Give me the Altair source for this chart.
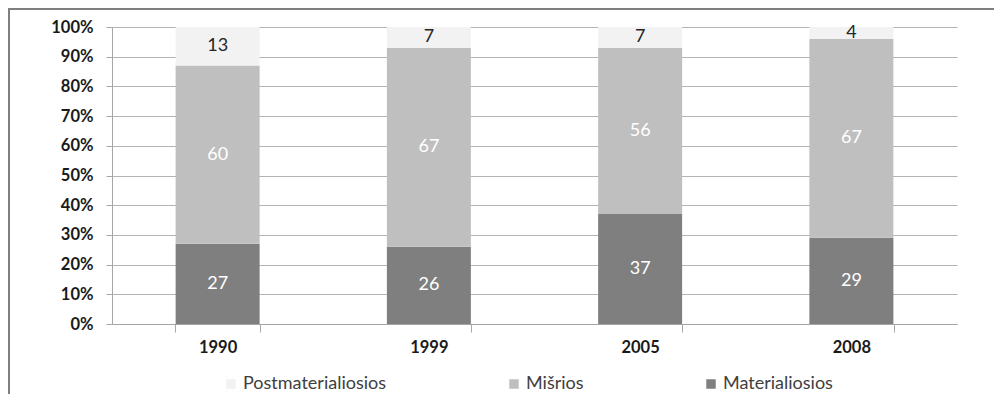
import altair as alt
import pandas as pd

years = ["1990", "1999", "2005", "2008"]
series = ["Materialiosios", "Mišrios", "Postmaterialiosios"]
materialiosios = [27, 26, 37, 29]
misrios = [60, 67, 56, 67]
postmaterialiosios = [13, 7, 7, 4]

legend_order = ["Postmaterialiosios", "Mišrios", "Materialiosios"]
colors = ["#f2f2f2", "#bfbfbf", "#7f7f7f"]
y_ticks = [0, 0.1, 0.2, 0.3, 0.4, 0.5, 0.6, 0.7, 0.8, 0.9, 1.0]

rows = []
for i, y in enumerate(years):
    for k, (s, vals) in enumerate(zip(series, [materialiosios, misrios, postmaterialiosios])):
        rows.append({"year": y, "series": s, "value": vals[i], "ord": k})
df = pd.DataFrame(rows)

FONT = "Lato"
AXIS_GRAY = "#a6a6a6"

x_axis = alt.Axis(
    labelAngle=0, labelFont=FONT, labelFontSize=16.5, labelFontWeight="bold",
    labelColor="#1a1a1a", tickBand="extent", tickSize=8, tickColor=AXIS_GRAY,
    domainColor=AXIS_GRAY, labelPadding=7, grid=False, title=None,
)
y_axis = alt.Axis(
    format=".0%", values=y_ticks, labelFont=FONT,
    labelFontSize=16.5, labelFontWeight="bold", labelColor="#1a1a1a",
    tickSize=6, tickColor=AXIS_GRAY, domainColor=AXIS_GRAY,
    gridColor="#b3b3b3", labelPadding=13, labelOverlap=False, title=None,
)
x_scale = alt.Scale(paddingInner=0.6, paddingOuter=0.3)
y_scale = alt.Scale(domain=[0, 1], nice=False)

bars = alt.Chart(df).mark_bar(size=84).encode(
    x=alt.X("year:N", sort=years, scale=x_scale, axis=x_axis),
    y=alt.Y("value:Q", stack="normalize", scale=y_scale, axis=y_axis),
    color=alt.Color(
        "series:N",
        scale=alt.Scale(domain=legend_order, range=colors),
        legend=alt.Legend(
            title=None, orient="none", direction="horizontal",
            legendX=110, legendY=348, padding=0, symbolType="square", symbolSize=90,
            symbolStrokeWidth=0, labelFont=FONT, labelFontSize=18,
            labelColor="#404040", columnPadding=118, labelOffset=3,
        ),
    ),
    order=alt.Order("ord:Q"),
)

labels = alt.Chart(df).transform_stack(
    stack="value", groupby=["year"], sort=[alt.SortField("ord")],
    as_=["v0", "v1"], offset="normalize",
).transform_calculate(
    mid="(datum.v0 + datum.v1) / 2"
).mark_text(font=FONT, fontSize=18).encode(
    x=alt.X("year:N", sort=years, scale=x_scale, axis=x_axis),
    y=alt.Y("mid:Q", scale=y_scale, axis=y_axis),
    text=alt.Text("value:Q"),
    color=alt.condition(
        "datum.series == 'Postmaterialiosios'", alt.value("#262626"), alt.value("#ffffff")
    ),
)

frame_top = alt.Chart(pd.DataFrame({"a": [0]})).mark_rule(color="#7f7f7f", strokeWidth=2).encode(
    x=alt.value(-104), x2=alt.value(900), y=alt.value(-18)
)
frame_left = alt.Chart(pd.DataFrame({"a": [0]})).mark_rule(color="#7f7f7f", strokeWidth=2).encode(
    x=alt.value(-103), y=alt.value(-19), y2=alt.value(380)
)

chart = alt.layer(bars, labels, frame_top, frame_left).properties(
    width=845, height=297,
    background="white",
    autosize=alt.AutoSizeParams(type="none"),
    padding={"left": 104, "top": 19, "right": 37, "bottom": 70},
).configure_view(stroke=None)

chart.save("out.html", embed_options={"renderer": "svg", "actions": False})
